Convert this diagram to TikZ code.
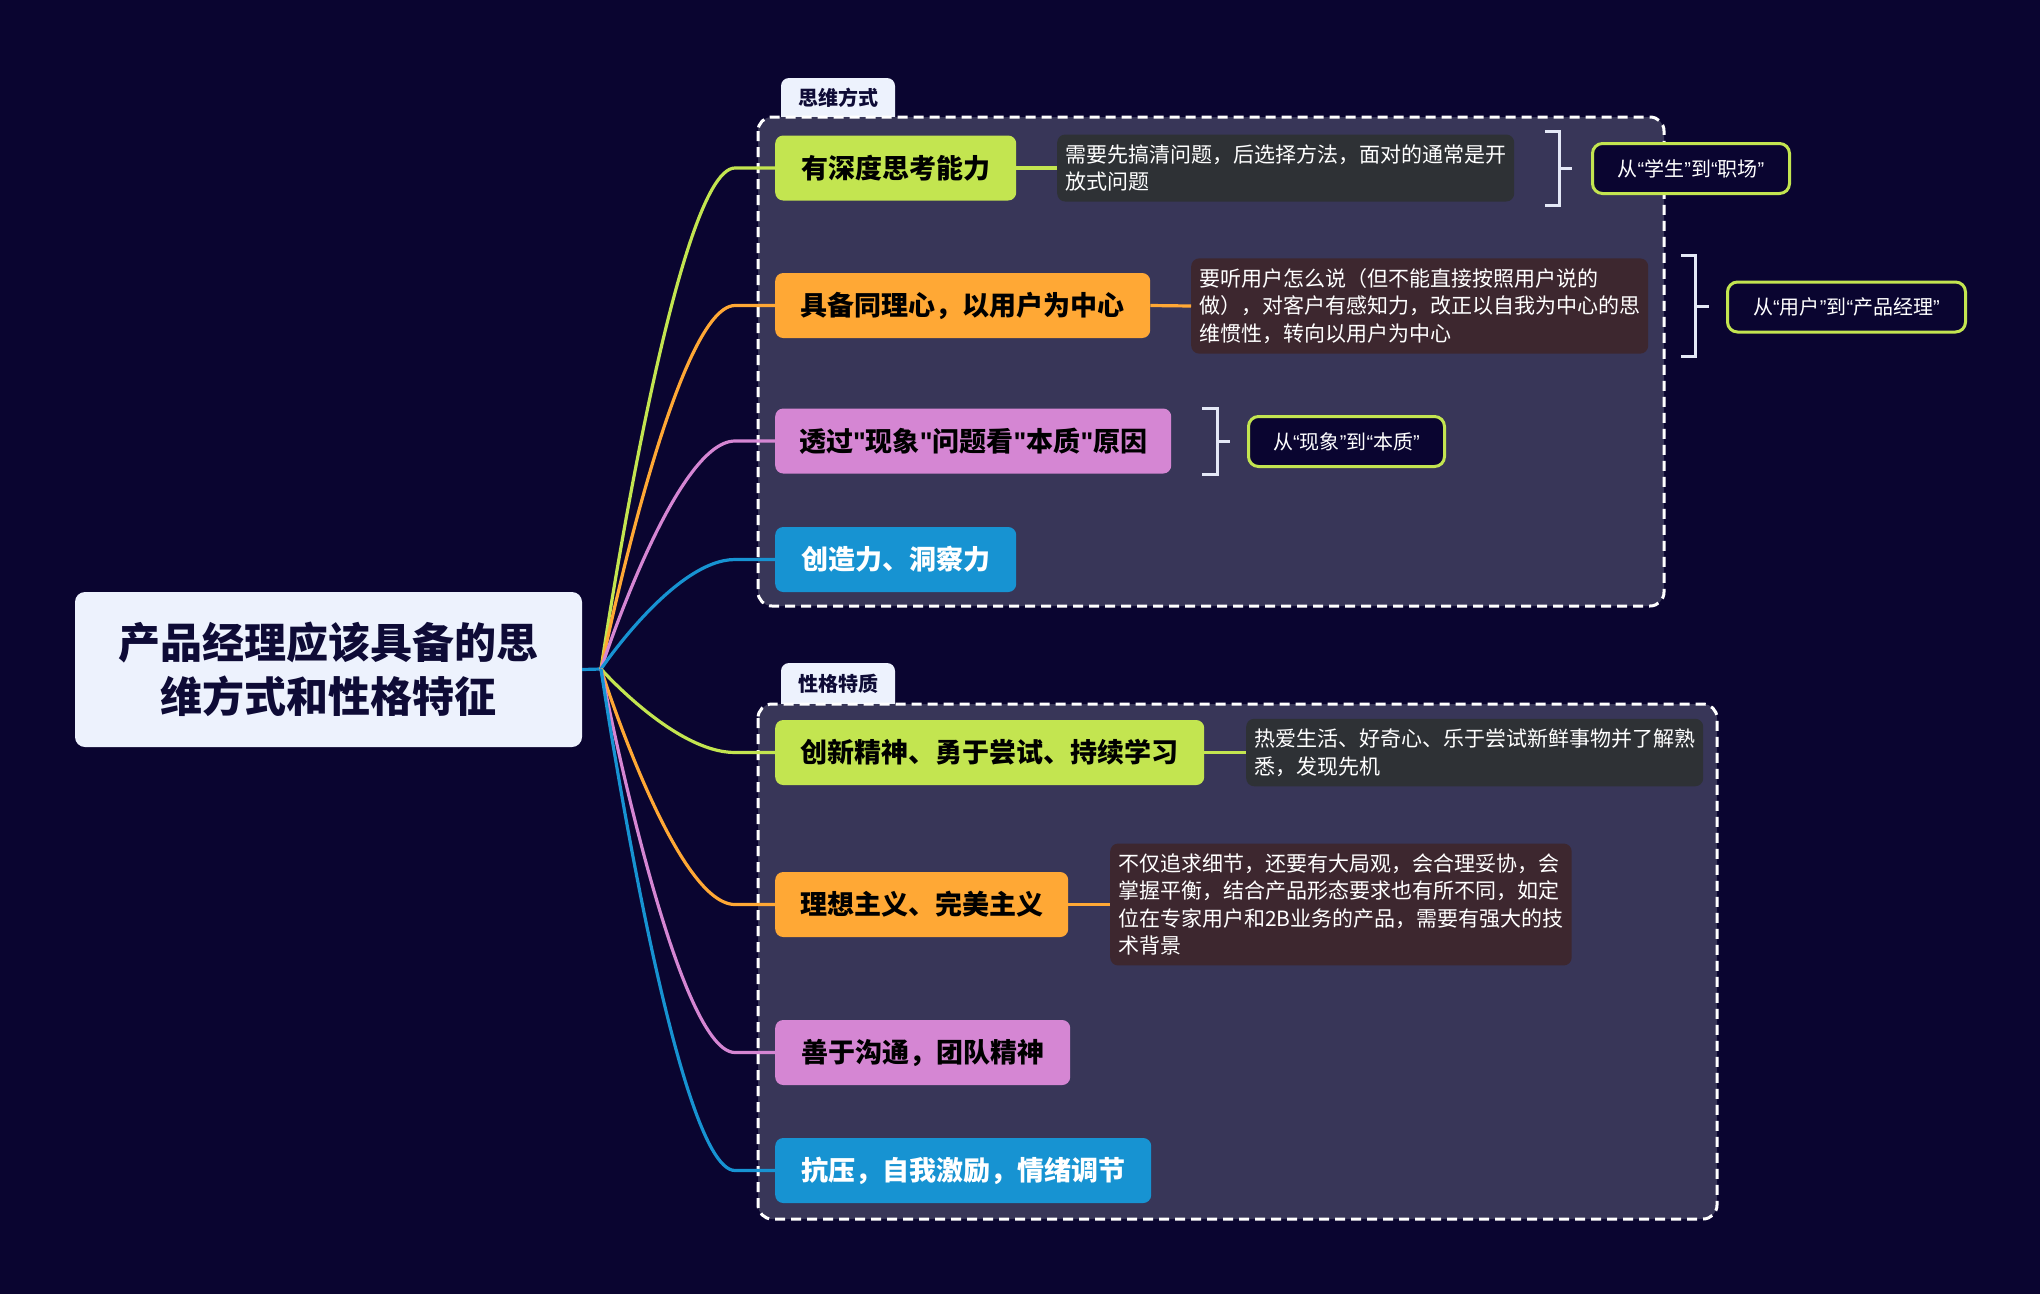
\documentclass[tikz,border=0pt]{standalone}
\usepackage{fontspec}
\setmainfont{Noto Sans CJK SC}
\newfontfamily\qfont{Liberation Sans}
\newcommand\mylq{{\qfont “}}
\newcommand\myrq{{\qfont ”}}
\newcommand\mysq{{\qfont "}}
\usetikzlibrary{calc}
\definecolor{bgc}{HTML}{0A0530}
\definecolor{grpfill}{HTML}{383658}
\definecolor{rootfill}{HTML}{EDF2FD}
\definecolor{roottext}{HTML}{0E0B36}
\definecolor{limec}{HTML}{C3E550}
\definecolor{orangec}{HTML}{FFA835}
\definecolor{pinkc}{HTML}{D586D3}
\definecolor{bluec}{HTML}{1793D2}
\definecolor{notegray}{HTML}{2E3135}
\definecolor{notemaroon}{HTML}{3D272F}
\definecolor{brkc}{HTML}{E4E8F6}
\tikzset{
  rootbox/.style={fill=rootfill, rounded corners=10pt, minimum width=507pt, minimum height=155pt,
    align=center, font=\fontsize{42}{54}\selectfont\bfseries, text=roottext, inner sep=0pt},
  branch/.style={rounded corners=8pt, minimum height=65pt, inner xsep=0pt, inner ysep=0pt,
    font=\fontsize{27}{32}\selectfont\bfseries, text=black, anchor=west},
  notebox/.style={rounded corners=8pt, align=left, inner xsep=8pt, inner ysep=10pt,
    font=\fontsize{21}{27.5}\selectfont, text=white, anchor=west},
  sumlabel/.style={draw=limec, line width=3pt, rounded corners=10pt, fill=bgc, text=white,
    minimum height=50pt, inner xsep=0pt, font=\fontsize{20}{24}\selectfont, anchor=west},
  conn/.style={line width=3.2pt},
  brk/.style={draw=brkc, line width=3pt},
  grp/.style={draw=white, dash pattern=on 10pt off 6pt, fill=grpfill, line width=3pt, rounded corners=14pt},
  tabtext/.style={font=\fontsize{20}{24}\selectfont\bfseries, text=roottext, inner sep=0pt},
}
\begin{document}
\begin{tikzpicture}[x=1pt,y=-1pt]
\useasboundingbox (0,0) rectangle (2040,1294);
\fill[bgc] (0,0) rectangle (2040,1294);

% tabs
\fill[rootfill, rounded corners=8pt] (781,130) -- (781,78) -- (895,78) -- (895,130) -- cycle;
\fill[rootfill, rounded corners=8pt] (781,717) -- (781,663) -- (895,663) -- (895,717) -- cycle;
% groups
\draw[grp] (758,117) rectangle (1664,606);
\draw[grp] (758,704) rectangle (1717,1219);
\node[tabtext] (t1) at (838,98) {思维方式};
\node[tabtext] (t2) at (838,684) {性格特质};

% root
\node[rootbox] (root) at (328.5,669.5) {产品经理应该具备的思\\维方式和性格特征};
\coordinate (hub) at (601,669);

% branches
\node[branch, fill=limec, minimum width=241pt] (b1) at (775,168) {有深度思考能力};
\node[branch, fill=orangec, minimum width=375pt] (b2) at (775,305.5) {具备同理心，以用户为中心};
\node[branch, fill=pinkc, minimum width=396pt] (b3) at (775,441) {透过\mysq 现象\mysq 问题看\mysq 本质\mysq 原因};
\node[branch, fill=bluec, minimum width=241pt, text=white] (b4) at (775,559.5) {创造力、洞察力};
\node[branch, fill=limec, minimum width=429pt] (b5) at (775,752.5) {创新精神、勇于尝试、持续学习};
\node[branch, fill=orangec, minimum width=293pt] (b6) at (775,904.5) {理想主义、完美主义};
\node[branch, fill=pinkc, minimum width=295pt] (b7) at (775,1052.5) {善于沟通，团队精神};
\node[branch, fill=bluec, minimum width=376pt, text=white] (b8) at (775,1170.5) {抗压，自我激励，情绪调节};

% connectors
\draw[conn, bluec] (root.east) -- (hub);
\foreach \n/\c in {b1/limec,b2/orangec,b3/pinkc,b4/bluec,b5/limec,b6/orangec,b7/pinkc,b8/bluec}{
  \draw[conn, \c] (hub) .. controls (hub) and ($(\n.west)+(-100,0)$) .. ($(\n.west)+(-40,0)$) -- (\n.west);
}

% notes
\node[notebox, fill=notegray] (n1) at (1057,168) {需要先搞清问题，后选择方法，面对的通常是开\\放式问题};
\node[notebox, fill=notemaroon] (n2) at (1191,306) {要听用户怎么说（但不能直接按照用户说的\\做），对客户有感知力，改正以自我为中心的思\\维惯性，转向以用户为中心};
\node[notebox, fill=notegray] (n3) at (1246,752.5) {热爱生活、好奇心、乐于尝试新鲜事物并了解熟\\悉，发现先机};
\node[notebox, fill=notemaroon] (n4) at (1110,904.5) {不仅追求细节，还要有大局观，会合理妥协，会\\掌握平衡，结合产品形态要求也有所不同，如定\\位在专家用户和2B业务的产品，需要有强大的技\\术背景};
\draw[conn, limec] (b1.east) -- (n1.west);
\draw[conn, orangec] (b2.east) -- (n2.west);
\draw[conn, limec] (b5.east) -- (n3.west);
\draw[conn, orangec] (b6.east) -- (n4.west);

% summary brackets
\draw[brk] (1545,131) -- (1559,131) -- (1559,205) -- (1545,205);
\coordinate (k1) at (1572,168);
\draw[brk] (1559,168) -- (k1);
\node[sumlabel, minimum width=197pt] (s1) at (1591,168.5) {从\mylq 学生\myrq 到\mylq 职场\myrq};

\draw[brk] (1681,255) -- (1695,255) -- (1695,356) -- (1681,356);
\coordinate (k2) at (1709,306);
\draw[brk] (1695,306) -- (k2);
\node[sumlabel, minimum width=238pt] (s2) at (1726,307) {从\mylq 用户\myrq 到\mylq 产品经理\myrq};

\draw[brk] (1202,408) -- (1217,408) -- (1217,474) -- (1202,474);
\coordinate (k3) at (1230,441);
\draw[brk] (1217,441) -- (k3);
\node[sumlabel, minimum width=196pt] (s3) at (1247,441.5) {从\mylq 现象\myrq 到\mylq 本质\myrq};
\end{tikzpicture}
\end{document}
